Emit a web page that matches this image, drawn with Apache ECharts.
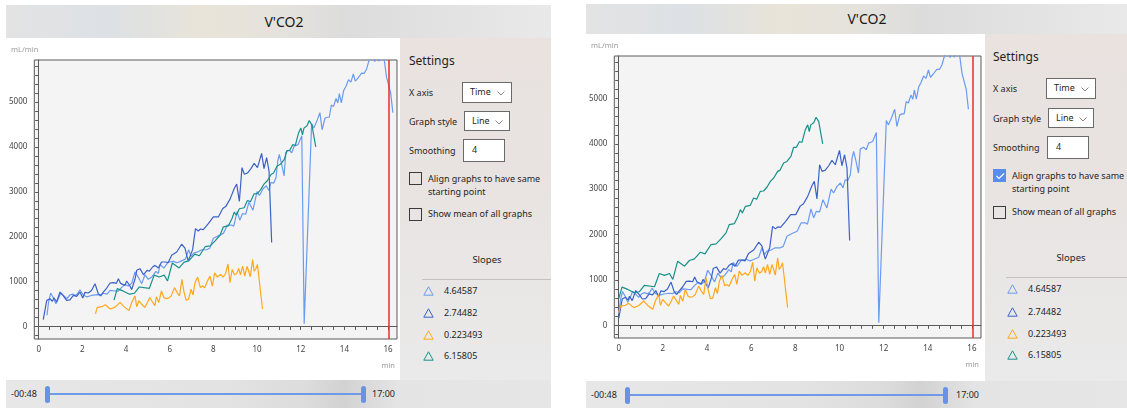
<!DOCTYPE html>
<html>
<head>
<meta charset="utf-8">
<script src="https://cdn.jsdelivr.net/npm/echarts@6/dist/echarts.min.js"></script>
<style>
  body { margin: 0; width: 1127px; height: 409px; overflow: hidden; background: #fff; position: relative;
         font-family: 'Noto Sans', 'Open Sans', sans-serif; color: #1f1f1f; }
  .abs { position: absolute; }
  .lbl { position: absolute; font-size: 9px; line-height: 12px; white-space: nowrap; }
  .box { position: absolute; background: #fff; border: 1.5px solid #6a6a6a; box-sizing: border-box; }
  .chk { position: absolute; width: 13px; height: 13px; border: 1.5px solid #3a3a3a; box-sizing: border-box; }
</style>
</head>
<body>
<script>
// relative time (min) and V'CO2 (mL/min) of each test
const lightBlue = [
  [0, 250], [0.08, 560], [0.17, 744], [0.29, 640], [0.41, 506], [0.55, 650], [0.63, 744], [0.78, 680],
  [0.9, 617], [1.05, 700], [1.18, 720], [1.3, 690], [1.42, 740], [1.51, 818], [1.66, 700], [1.82, 660],
  [2.04, 690], [2.28, 707], [2.45, 700], [2.58, 740], [2.75, 720], [2.89, 803], [3.12, 790], [3.27, 788],
  [3.42, 870], [3.57, 937], [3.72, 900], [3.88, 960], [4.03, 1213], [4.18, 1100], [4.34, 953], [4.49, 1150],
  [4.64, 1050], [4.8, 1100], [4.99, 1227], [5.1, 1180], [5.18, 1384], [5.35, 1300], [5.56, 1436], [5.79, 1450],
  [5.95, 1420], [6.11, 1450], [6.34, 1500], [6.49, 1708], [6.6, 1560], [6.72, 1634], [6.9, 1660], [7.09, 1708],
  [7.32, 1708], [7.45, 1740], [7.62, 1963], [7.85, 2022], [8.08, 2073], [8.26, 2257], [8.45, 2260], [8.55, 2230],
  [8.71, 2565], [8.83, 2367], [8.95, 2512], [9.1, 2500], [9.25, 2769], [9.43, 2587], [9.62, 3004], [9.73, 2917],
  [9.89, 3062], [10.04, 3136], [10.16, 3030], [10.26, 3209], [10.38, 3190], [10.49, 3319], [10.57, 3686], [10.64, 3832],
  [10.75, 3612], [10.86, 3356], [10.94, 3883], [11.09, 3927], [11.21, 3869], [11.32, 4016], [11.5, 4051], [11.67, 4249],
  [11.78, 59], [12.12, 4513], [12.22, 4418], [12.38, 4601], [12.5, 4763], [12.6, 4381], [12.73, 4638], [12.83, 4660],
  [12.93, 4660], [13.02, 4931], [13.12, 4900], [13.24, 5077], [13.32, 4980], [13.39, 5187], [13.48, 4983], [13.59, 5260],
  [13.68, 5334], [13.81, 5495], [13.92, 5444], [14.03, 5627], [14.12, 5466], [14.25, 5539], [14.41, 5642], [14.53, 5640],
  [14.64, 5737], [14.72, 5700], [14.79, 6000], [14.9, 6050], [15.01, 5900], [15.1, 6050], [15.19, 5910], [15.3, 6050],
  [15.44, 5960], [15.55, 5554], [15.62, 5540], [15.74, 5203], [15.84, 4763]
];
const darkBlue = [
  [0, 150], [0.16, 580], [0.31, 617], [0.42, 560], [0.49, 640], [0.61, 543], [0.77, 766], [0.92, 680],
  [1.07, 580], [1.22, 590], [1.38, 692], [1.53, 670], [1.68, 766], [1.81, 632], [1.91, 760], [2.06, 744],
  [2.21, 800], [2.37, 953], [2.52, 729], [2.63, 680], [2.75, 766], [2.9, 850], [3.06, 967], [3.21, 975],
  [3.35, 960], [3.44, 1064], [3.54, 960], [3.74, 915], [3.82, 1012], [3.97, 900], [4.05, 820], [4.2, 1050],
  [4.28, 1250], [4.43, 1287], [4.59, 1150], [4.75, 1250], [4.86, 1230], [5.01, 1324], [5.12, 1361], [5.27, 1300],
  [5.42, 1436], [5.6, 1436], [5.72, 1420], [5.88, 1585], [6.11, 1658], [6.34, 1831], [6.49, 1743], [6.57, 1582],
  [6.64, 1458], [6.84, 1711], [6.97, 2180], [7.1, 2125], [7.2, 2170], [7.33, 2158], [7.56, 2292], [7.79, 2440],
  [8.02, 2440], [8.22, 2627], [8.37, 2680], [8.56, 2842], [8.75, 3077], [8.86, 3172], [8.98, 2785], [9.1, 3539],
  [9.21, 3392], [9.36, 3420], [9.51, 3517], [9.66, 3634], [9.81, 3539], [10.0, 3854], [10.11, 3517], [10.23, 3759],
  [10.34, 3466], [10.46, 1868]
];
const orange = [
  [0, 279], [0.08, 425], [0.3, 440], [0.45, 484], [0.68, 389], [0.9, 430], [1.13, 535], [1.33, 430],
  [1.54, 352], [1.66, 535], [1.81, 681], [1.89, 440], [1.99, 571], [2.11, 500], [2.26, 425], [2.38, 535],
  [2.49, 644], [2.59, 560], [2.72, 462], [2.79, 659], [2.9, 530], [3.02, 791], [3.14, 640], [3.24, 620],
  [3.35, 630], [3.47, 681], [3.62, 864], [3.74, 754], [3.85, 681], [3.96, 1048], [4.05, 780], [4.15, 586],
  [4.26, 600], [4.38, 828], [4.47, 700], [4.56, 974], [4.68, 1099], [4.8, 870], [4.9, 900], [5.0, 860],
  [5.13, 1011], [5.25, 1121], [5.35, 900], [5.46, 1194], [5.58, 1100], [5.73, 1158], [5.85, 1100], [5.96, 1180],
  [6.07, 1391], [6.16, 974], [6.26, 1268], [6.37, 1150], [6.47, 1180], [6.56, 1290], [6.64, 1150], [6.74, 1341],
  [6.84, 1121], [6.94, 1340], [7.02, 1230], [7.09, 1106], [7.2, 1488], [7.27, 1230], [7.35, 1290], [7.42, 1378],
  [7.65, 389]
];
const teal = [
  [0, 587], [0.15, 842], [0.41, 791], [0.71, 718], [0.94, 740], [1.16, 879], [1.62, 850], [1.84, 1143],
  [2.07, 1100], [2.3, 1143], [2.45, 1011], [2.67, 1413], [2.98, 1304], [3.2, 1428], [3.43, 1465], [3.7, 1611],
  [3.91, 1574], [4.18, 1780], [4.41, 1795], [4.63, 1905], [4.86, 2037], [5.01, 2220], [5.24, 2242], [5.4, 2400],
  [5.51, 2550], [5.6, 2477], [5.74, 2622], [5.96, 2644], [6.11, 2806], [6.25, 2780], [6.41, 2952], [6.56, 2960],
  [6.72, 3048], [6.87, 3172], [7.02, 3246], [7.2, 3392], [7.3, 3414], [7.47, 3576], [7.62, 3612], [7.8, 3722],
  [7.92, 3920], [8.04, 3920], [8.19, 4051], [8.3, 4030], [8.45, 4308], [8.56, 4418], [8.63, 4270], [8.7, 4418],
  [8.84, 4470], [8.94, 4587], [9.06, 4490], [9.13, 4480], [9.24, 4000]
];

// start time of each test on the common time axis (left chart, not aligned)
const startTimes = [0.38, 0.21, 2.6, 3.45];
const slopes = ['4.64587', '2.74482', '0.223493', '6.15805'];
const colors = ['#6b9bf0', '#3c62c9', '#ffa81a', '#18918a'];
const markerTime = 16.04;

const xTickLabels = [0, 2, 4, 6, 8, 10, 12, 14, 16];
const yTickLabels = [0, 1000, 2000, 3000, 4000, 5000];
const xTickMarks = [];
for (let t = 0; t <= 16; t += 0.5) xTickMarks.push(t);
const yTickMarks = [];
for (let v = -200; v <= 5800; v += 200) yTickMarks.push(v);

const panels = [
  { align: false, x: 6, w: 545, titleTop: 5, titleH: 33, titleCx: 284,
    chart: { x: 6, y: 38, w: 394, h: 342, left: 28, top: 22, width: 363, height: 279 },
    setX: 400, setTop: 38, setBottom: 380, X: x => x, Y: y => y,
    slider: { top: 380, bottom: 408, minX: 11, h1: 45, h2: 361, maxX: 372, cy: 394 } },
  { align: true, x: 586, w: 541, titleTop: 4, titleH: 30, titleCx: 867,
    chart: { x: 586, y: 34, w: 399, h: 347, left: 28, top: 22, width: 367, height: 282 },
    setX: 985, setTop: 34, setBottom: 381, X: x => x + 584, Y: y => 1.0102 * y - 4.6,
    slider: { top: 381, bottom: 408, minX: 591, h1: 625, h2: 943, maxX: 956, cy: 395 } }
];

function add(html) {
  const d = document.createElement('div');
  d.innerHTML = html;
  const el = d.firstElementChild;
  document.body.appendChild(el);
  return el;
}
function text(x, cy, s, size, extra) {
  add(`<div class="lbl" style="left:${x}px;top:${cy - 6}px;font-size:${size}px;${extra || ''}">${s}</div>`);
}
const chevron = '<svg width="8" height="5" style="position:absolute;right:6px;top:8px"><polyline points="0.5,0.5 4,4 7.5,0.5" fill="none" stroke="#8a8a8a" stroke-width="1"/></svg>';

function buildPanel(p) {
  const s = p.slider;
  // frame pieces
  add(`<div class="abs" style="left:${p.x}px;top:${p.titleTop}px;width:${p.w}px;height:${p.titleH}px;
    background:linear-gradient(90deg,#e3e3e3 0%,#dde1e5 18%,#e2e2de 28%,#e9e4d9 36%,#e4e2dd 52%,#dcdcdc 62%,#e2e2e2 80%,#e9e9e9 100%)"></div>`);
  add(`<div class="abs" style="left:${p.titleCx - 60}px;top:${p.titleTop}px;width:120px;height:${p.titleH}px;
    line-height:${p.titleH}px;text-align:center;font-size:14px;color:#1a1a1a">V'CO2</div>`);
  add(`<div class="abs" style="left:${p.setX}px;top:${p.setTop}px;width:${p.x + p.w - p.setX}px;height:${p.setBottom - p.setTop}px;
    background:linear-gradient(180deg,#e9e2df 0%,#e8e3e1 40%,#eaeaea 100%)"></div>`);
  add(`<div class="abs" style="left:${p.x}px;top:${s.top}px;width:${p.w}px;height:${s.bottom - s.top}px;
    background:linear-gradient(90deg,#e7e7e7 0%,#e3e3e3 40%,#dcdcdc 55%,#d2d2d2 62%,#e4e4e4 72%,#e6e6e6 100%)"></div>`);

  // slider
  text(s.minX, s.cy, '-00:48', 9);
  text(s.maxX, s.cy, '17:00', 9);
  add(`<div class="abs" style="left:${s.h1 + 3}px;top:${s.cy - 1}px;width:${s.h2 - s.h1}px;height:2px;background:#6f9ae8"></div>`);
  add(`<div class="abs" style="left:${s.h1}px;top:${s.cy - 8}px;width:5px;height:17px;border-radius:2.5px;background:#6892e6"></div>`);
  add(`<div class="abs" style="left:${s.h2}px;top:${s.cy - 8}px;width:5px;height:17px;border-radius:2.5px;background:#6892e6"></div>`);

  // settings column
  const X = p.X, Y = p.Y;
  text(X(409), Y(61), 'Settings', 12);
  text(X(409), Y(93), 'X axis', 9);
  add(`<div class="box" style="left:${X(462)}px;top:${Y(82)}px;width:50px;height:21px">
    <span class="lbl" style="left:7px;top:3px">Time</span>${chevron}</div>`);
  text(X(409), Y(122), 'Graph style', 9);
  add(`<div class="box" style="left:${X(464)}px;top:${Y(111)}px;width:46px;height:20px">
    <span class="lbl" style="left:7px;top:3px">Line</span>${chevron}</div>`);
  text(X(409), Y(151), 'Smoothing', 9);
  add(`<div class="box" style="left:${X(463)}px;top:${Y(139)}px;width:42px;height:23px">
    <span class="lbl" style="left:8px;top:4px">4</span></div>`);
  if (p.align) {
    add(`<div class="chk" style="left:${X(409)}px;top:${Y(172)}px;background:#5b8cec;border-color:#5b8cec">
      <svg width="10" height="10" style="position:absolute;left:0.5px;top:0.5px"><polyline points="1.5,5 4,7.5 9,2.5" fill="none" stroke="#fff" stroke-width="1.1"/></svg></div>`);
  } else {
    add(`<div class="chk" style="left:${X(409)}px;top:${Y(172)}px"></div>`);
  }
  text(X(428), Y(179), 'Align graphs to have same', 9);
  text(X(428), Y(192), 'starting point', 9);
  add(`<div class="chk" style="left:${X(409)}px;top:${Y(208)}px"></div>`);
  text(X(428), Y(214), 'Show mean of all graphs', 9);
  add(`<div class="lbl" style="left:${X(447)}px;width:80px;text-align:center;top:${Y(260) - 6}px;font-size:9.5px">Slopes</div>`);
  add(`<div class="abs" style="left:${X(422)}px;top:${Y(279)}px;width:${p.x + p.w - X(422)}px;height:1px;background:#c4c0bf"></div>`);
  [291, 313, 335, 356].forEach((y, i) => {
    add(`<svg class="abs" width="11" height="10" style="left:${X(423)}px;top:${Y(y) - 5}px"><polygon points="5.5,0.8 10.2,9.2 0.8,9.2" fill="none" stroke="${colors[i]}" stroke-width="1"/></svg>`);
    text(X(444), Y(y), slopes[i], 9);
  });

  // chart
  const c = p.chart;
  const div = add(`<div class="abs" style="left:${c.x}px;top:${c.y}px;width:${c.w}px;height:${c.h}px;background:#fff"></div>`);
  const chart = echarts.init(div, null, { renderer: 'canvas' });
  const tests = [lightBlue, darkBlue, orange, teal];
  const series = tests.map((rows, i) => {
    const t0 = p.align ? 0 : startTimes[i];
    return {
      type: 'line',
      data: rows.map(([t, v]) => [t + t0, v]),
      showSymbol: false,
      lineStyle: { width: 1.2, color: colors[i] },
      itemStyle: { color: colors[i] },
      z: 3 + i
    };
  });
  series[0].markLine = {
    silent: true, symbol: ['none', 'none'], label: { show: false },
    lineStyle: { color: '#f22a2a', width: 1.5, type: 'solid' },
    data: [{ xAxis: markerTime }]
  };
  const axisColor = '#5a5a5a';
  const plain = v => String(v);
  chart.setOption({
    animation: false,
    grid: { left: c.left, top: c.top, width: c.width, height: c.height, show: true,
      backgroundColor: '#f4f4f4', borderColor: axisColor, borderWidth: 1 },
    xAxis: {
      type: 'value', min: -0.2, max: 16.41,
      axisLine: { lineStyle: { color: axisColor } },
      axisTick: { customValues: xTickMarks, length: 3.5, lineStyle: { color: axisColor } },
      axisLabel: { customValues: xTickLabels, formatter: plain, fontSize: 8, color: '#444', margin: 7, fontFamily: 'Noto Sans' },
      splitLine: { show: false }
    },
    yAxis: {
      type: 'value', min: -280, max: 5936,
      axisLine: { show: true, lineStyle: { color: axisColor } },
      axisTick: { show: true, customValues: yTickMarks, length: 3.5, lineStyle: { color: axisColor } },
      axisLabel: { customValues: yTickLabels, formatter: plain, fontSize: 8, color: '#444', margin: 7, fontFamily: 'Noto Sans' },
      splitLine: { show: false }
    },
    graphic: [
      { type: 'text', x: 5, y: 12, style: { text: 'mL/min', fill: '#9a9a9a', fontSize: 7.5, fontFamily: 'Noto Sans', verticalAlign: 'middle' } },
      { type: 'text', x: c.left + c.width - 2, y: c.top + c.height + 27,
        style: { text: 'min', fill: '#9a9a9a', fontSize: 7.5, fontFamily: 'Noto Sans', align: 'right', verticalAlign: 'middle' } }
    ],
    series: series
  });
}

panels.forEach(buildPanel);
</script>
</body>
</html>
